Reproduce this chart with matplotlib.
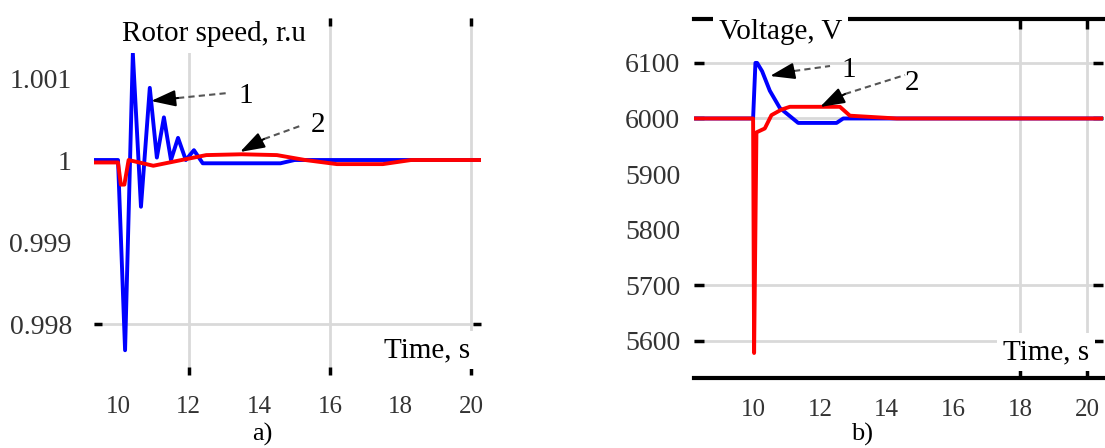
import matplotlib
matplotlib.use("Agg")
import matplotlib.pyplot as plt

plt.rcParams['font.family'] = ['Liberation Serif', 'DejaVu Serif']

# ---------------- data ----------------
# panel a) rotor speed, r.u.
t_a_blue = [9.32, 10.0, 10.2, 10.42, 10.65, 10.9, 11.1, 11.3, 11.5, 11.7, 11.92, 12.15, 12.4, 13.0, 14.6, 15.0, 20.28]
w_a_blue = [1.0, 1.0, 0.99768, 1.0013, 0.99943, 1.00088, 1.00003, 1.00052, 1.0, 1.00027, 1.0, 1.00012, 0.99996, 0.99996, 0.99996, 1.0, 1.0]
t_a_red = [9.32, 10.0, 10.08, 10.18, 10.3, 11.0, 11.8, 12.5, 13.5, 14.5, 15.3, 16.2, 17.5, 18.3, 20.28]
w_a_red = [0.99997, 0.99997, 0.9997, 0.9997, 1.0, 0.99993, 1.0, 1.00006, 1.00007, 1.00006, 1.0, 0.99995, 0.99995, 1.0, 1.0]
a_yticks = [1.001, 1.0, 0.999, 0.998]
a_yticklabels = ['1.001', '1', '0.999', '0.998']
a_xticks = [10, 12, 14, 16, 18, 20]
a_xticklabels = ['10', '12', '14', '16', '18', '20']
a_xgrid = [12, 16, 20]
a_ygrid = [0.998]

# panel b) voltage, V
t_b_blue = [8.23, 10.0, 10.07, 10.12, 10.27, 10.5, 10.8, 11.35, 12.5, 12.7, 20.48]
v_b_blue = [6000, 6000, 6100, 6100, 6085, 6050, 6019, 5992, 5992, 6000, 6000]
t_b_red = [8.23, 10.0, 10.03, 10.1, 10.35, 10.55, 10.85, 11.1, 12.6, 12.9, 14.3, 20.48]
v_b_red = [6000, 6000, 5578, 5975, 5982, 6006, 6016, 6021, 6021, 6005, 6000, 6000]
b_yticks = [6100, 6000, 5900, 5800, 5700, 5600]
b_yticklabels = ['6100', '6000', '5900', '5800', '5700', '5600']
b_xticks = [10, 12, 14, 16, 18, 20]
b_xticklabels = ['10', '12', '14', '16', '18', '20']
b_xgrid = [18, 20]
b_ygrid = [6100, 6000, 5700, 5600]

W, H = 1105, 448
fig = plt.figure(figsize=(W / 100, H / 100), dpi=100)


def fx(x):
    return x / W


def fy(y):
    return 1 - y / H


def make_axes(l, t, r, b):
    return fig.add_axes([fx(l), fy(b), fx(r) - fx(l), fy(t) - fy(b)])


GRID = '#d9d9d9'
LW = 2.8
FS_XTICK = 18
FS_YTICK = 20
FS_TEXT = 21
TICKCOL = '#333333'


def setup(ax, xt, xtl, yt, ytl, xg, yg, ypad, tlen):
    ax.xaxis.remove_overlapping_locs = False
    ax.yaxis.remove_overlapping_locs = False
    ax.set_yticks(yt)
    ax.set_yticklabels(ytl)
    ax.set_xticks(xt)
    ax.set_xticklabels(xtl)
    ax.tick_params(which='major', length=0, colors=TICKCOL)
    ax.tick_params(axis='y', which='major', pad=ypad, labelsize=FS_YTICK)
    ax.tick_params(axis='x', which='major', pad=15, labelsize=FS_XTICK)
    ax.set_xticks(xg, minor=True)
    ax.set_yticks(yg, minor=True)
    ax.tick_params(which='minor', direction='in', length=tlen, width=2.5, top=True, right=True,
                   bottom=True, left=True, color='black')
    ax.grid(which='minor', color=GRID, lw=2)


# ---------- panel a ----------
axa = make_axes(94, 18, 481, 375)
axa.set_xlim(9.32, 20.28)
axa.set_ylim(0.997378, 1.001732)
for s in axa.spines.values():
    s.set_visible(False)
setup(axa, a_xticks, a_xticklabels, a_yticks, a_yticklabels, a_xgrid, a_ygrid, 16, 6)
axa.plot(t_a_blue, w_a_blue, color='#0000ff', lw=LW, zorder=3)
axa.plot(t_a_red, w_a_red, color='#ff0000', lw=LW, zorder=4)

# ---------- panel b ----------
axb = make_axes(694, 19, 1103, 378)
axb.set_xlim(8.23, 20.48)
axb.set_ylim(5533, 6179)
axb.spines['left'].set_visible(False)
axb.spines['right'].set_visible(False)
axb.spines['top'].set_linewidth(3)
axb.spines['bottom'].set_linewidth(3)
setup(axb, b_xticks, b_xticklabels, b_yticks, b_yticklabels, b_xgrid, b_ygrid, 10, 7)
axb.plot(t_b_blue, v_b_blue, color='#0000ff', lw=LW, zorder=3)
axb.plot(t_b_red, v_b_red, color='#ff0000', lw=LW, zorder=4)

# ---------- texts with white boxes ----------
box = dict(facecolor='white', edgecolor='none', pad=4)
fig.text(fx(122), fy(34), 'Rotor speed, r.u', fontsize=FS_TEXT, ha='left', va='center', bbox=box, zorder=10)
fig.text(fx(384), fy(350), 'Time, s', fontsize=FS_TEXT, ha='left', va='center', bbox=box, zorder=10)
fig.text(fx(719), fy(32), 'Voltage, V', fontsize=FS_TEXT, ha='left', va='center', bbox=box, zorder=10)
fig.text(fx(1003), fy(352), 'Time, s', fontsize=FS_TEXT, ha='left', va='center', bbox=box, zorder=10)
fig.text(fx(262), fy(434), 'a)', fontsize=19, ha='center', va='center')
fig.text(fx(862), fy(434), 'b)', fontsize=19, ha='center', va='center')

# ---------- annotation arrows (pixel positions) ----------
ax_over = fig.add_axes([0, 0, 1, 1], facecolor='none')
ax_over.set_xlim(0, W)
ax_over.set_ylim(H, 0)
ax_over.axis('off')


def arrow(tip, base, end, label, lpos):
    ax_over.annotate('', xy=tip, xytext=base,
                     arrowprops=dict(arrowstyle='-|>,head_length=1.5,head_width=0.5',
                                     color='black', lw=1.5, shrinkA=0, shrinkB=0))
    ax_over.plot([base[0], end[0]], [base[1], end[1]], color='#555555', lw=1.5, ls=(0, (3, 2)))
    ax_over.text(lpos[0], lpos[1], label, fontsize=FS_TEXT, ha='center', va='center')


arrow((151, 101), (178, 98), (228, 93), '1', (246, 96))
arrow((240, 152), (264, 139), (300, 126), '2', (318, 125))
arrow((770, 76), (794, 71), (830, 66), '1', (849, 70))
arrow((820, 107), (845, 94), (905, 75), '2', (912, 83))

fig.savefig('out.png', dpi=100)
